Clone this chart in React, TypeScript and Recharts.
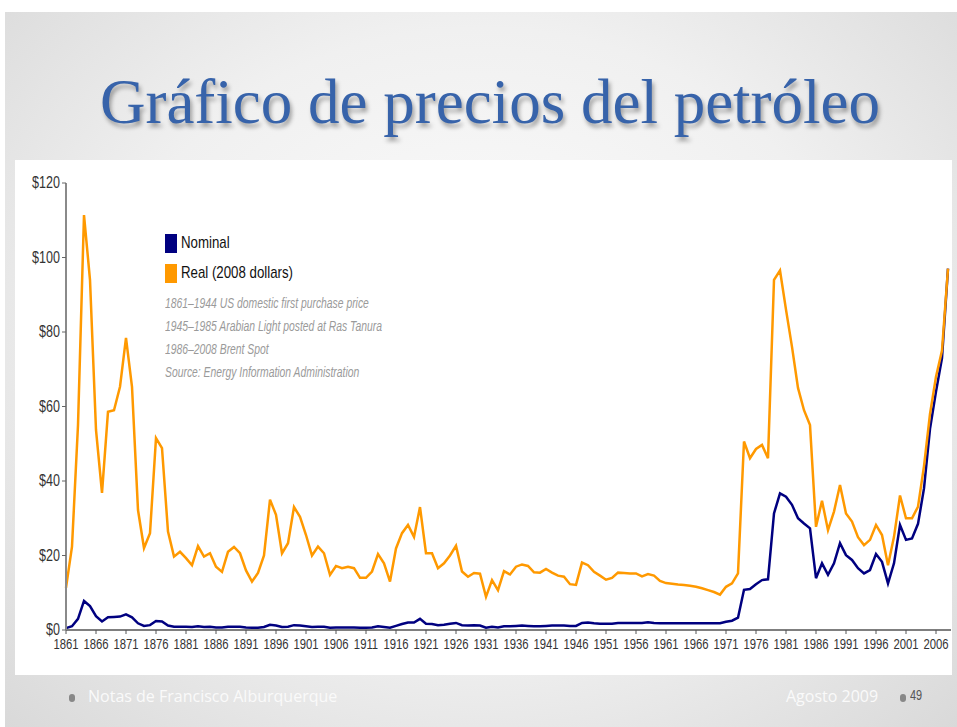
import { LineChart, Line, XAxis, YAxis } from 'recharts'

// Real price, 2008 dollars per barrel
const real1861to1900 = [
  11.3, 22.4, 55, 111.4, 94, 53.7, 36.8, 58.6, 59, 65.3,
  78.4, 65.3, 32.2, 22, 26, 51.5, 48.8, 26.4, 19.7, 21,
  19.3, 17.4, 22.5, 19.7, 20.6, 17, 15.6, 21, 22.3, 20.6,
  16, 13, 15.3, 20, 35, 30.9, 20.6, 23.3, 33, 30.4,
]
const real1901to1940 = [
  25.5, 20, 22.4, 20.6, 14.8, 17.2, 16.6, 17, 16.6, 14,
  14, 15.7, 20.4, 17.9, 13, 21.9, 26, 28.2, 25, 33,
  20.6, 20.6, 16.6, 17.9, 20, 22.6, 15.7, 14.3, 15.3, 15.1,
  8.9, 13.4, 10.7, 15.8, 14.9, 17, 17.6, 17.2, 15.5, 15.4,
]
const real1941to1980 = [
  16.4, 15.4, 14.6, 14.3, 12.3, 12.1, 18.1, 17.4, 15.6, 14.6,
  13.5, 14, 15.4, 15.3, 15.2, 15.2, 14.4, 15, 14.6, 13.2,
  12.6, 12.4, 12.2, 12.1, 11.9, 11.6, 11.2, 10.7, 10.2, 9.5,
  11.6, 12.5, 15.2, 50.6, 46.1, 48.6, 49.7, 46.1, 94, 96.5,
]
const real1981to2008 = [
  86, 76, 65, 59, 55, 27.7, 34.7, 26.8, 31.8, 38.9,
  31.3, 29.1, 24.9, 22.8, 24.2, 28.2, 25.5, 17.4, 25, 36.1,
  30, 30, 33.1, 44, 58, 68, 75, 97,
]

// Nominal price, dollars per barrel
const nominal1861to1900 = [
  0.5, 1.0, 3.0, 7.8, 6.4, 3.7, 2.3, 3.4, 3.5, 3.6,
  4.2, 3.4, 1.8, 1.1, 1.3, 2.4, 2.3, 1.2, 0.9, 0.9,
  0.9, 0.8, 1.0, 0.8, 0.9, 0.7, 0.7, 0.9, 0.9, 0.9,
  0.7, 0.6, 0.6, 0.8, 1.4, 1.2, 0.8, 0.9, 1.3, 1.2,
]
const nominal1901to1940 = [
  1.0, 0.8, 0.9, 0.9, 0.6, 0.7, 0.7, 0.7, 0.7, 0.6,
  0.6, 0.7, 1.0, 0.8, 0.6, 1.1, 1.6, 2.0, 2.0, 3.0,
  1.7, 1.6, 1.3, 1.4, 1.7, 1.9, 1.3, 1.2, 1.3, 1.2,
  0.6, 0.9, 0.7, 1.0, 1.0, 1.1, 1.2, 1.1, 1.0, 1.0,
]
const nominal1941to1980 = [
  1.1, 1.2, 1.2, 1.2, 1.1, 1.1, 1.9, 2.0, 1.8, 1.7,
  1.7, 1.7, 1.9, 1.9, 1.9, 1.9, 1.9, 2.1, 1.9, 1.8,
  1.8, 1.8, 1.8, 1.8, 1.8, 1.8, 1.8, 1.8, 1.8, 1.8,
  2.2, 2.5, 3.3, 10.8, 11, 12.3, 13.4, 13.6, 31.3, 36.7,
]
const nominal1981to2008 = [
  35.8, 33.6, 30, 28.6, 27.3, 13.9, 17.9, 14.8, 17.9, 23.3,
  20.1, 18.8, 16.6, 15.2, 16.1, 20.4, 18.3, 12.5, 17.9, 28.2,
  24.2, 24.6, 28.5, 38, 54, 64, 73, 97,
]

const firstYear = 1861
const xTicks = [
  1861, 1866, 1871, 1876, 1881, 1886, 1891, 1896, 1901, 1906,
  1911, 1916, 1921, 1926, 1931, 1936, 1941, 1946, 1951, 1956,
  1961, 1966, 1971, 1976, 1981, 1986, 1991, 1996, 2001, 2006,
]
const yTicks = [0, 20, 40, 60, 80, 100, 120]
const notes = [
  '1861–1944 US domestic first purchase price',
  '1945–1985 Arabian Light posted at Ras Tanura',
  '1986–2008 Brent Spot',
  'Source: Energy Information Administration',
]

const real = [...real1861to1900, ...real1901to1940, ...real1941to1980, ...real1981to2008]
const nominal = [...nominal1861to1900, ...nominal1901to1940, ...nominal1941to1980, ...nominal1981to2008]
const data = real.map((r, i) => ({ year: firstYear + i, nominal: nominal[i], real: r }))

const NAVY = '#000080'
const ORANGE = '#ff9900'
const sans = "'Liberation Sans', Arial, sans-serif"
const squeeze = 0.78

// narrow-looking tick text (no condensed font available)
function XTick({ x, y, payload }: any) {
  return (
    <text transform={`translate(${x},${y + 13}) scale(${squeeze},1)`} textAnchor="middle" fontSize={14.5} fontFamily={sans} fill="#333">
      {payload.value}
    </text>
  )
}

function YTick({ x, y, payload }: any) {
  return (
    <text transform={`translate(${x},${y + 5}) scale(0.76,1)`} textAnchor="end" fontSize={16.5} fontFamily={sans} fill="#333">
      {`$${payload.value}`}
    </text>
  )
}

function ChartLegend() {
  const items = [
    { label: 'Nominal', color: NAVY },
    { label: 'Real (2008 dollars)', color: ORANGE },
  ]
  return (
    <div style={{ position: 'absolute', left: 165, top: 228, fontFamily: sans }}>
      {items.map((it) => (
        <div key={it.label} style={{ display: 'flex', alignItems: 'center', height: 30 }}>
          <span style={{ width: 12, height: 19, background: it.color, marginRight: 4 }} />
          <span style={{ fontSize: 17, color: '#111', transform: `scaleX(${squeeze})`, transformOrigin: 'left', whiteSpace: 'nowrap' }}>
            {it.label}
          </span>
        </div>
      ))}
      <div style={{ marginTop: 4, transform: 'scaleX(0.74)', transformOrigin: 'left' }}>
        {notes.map((n) => (
          <div key={n} style={{ fontSize: 14, fontStyle: 'italic', color: '#9a9a9a', lineHeight: '23px', whiteSpace: 'nowrap' }}>{n}</div>
        ))}
      </div>
    </div>
  )
}

export default function App() {
  return (
    <div style={{ position: 'relative', width: 957, height: 727, background: '#fff', overflow: 'hidden' }}>
      <style>{'body{margin:0}'}</style>
      <div
        style={{
          position: 'absolute', left: 5, top: 12, width: 952, height: 715,
          background: 'radial-gradient(ellipse at 50% 45%, #fdfdfd 0%, #f0f0f0 55%, #d9d9d9 100%)',
        }}
      />
      <div
        style={{
          position: 'absolute', left: 0, top: 66, width: 980, textAlign: 'center',
          fontFamily: "'Liberation Serif', 'DejaVu Serif', serif", fontSize: 63, color: '#3763aa',
          textShadow: '2px 4px 4px rgba(0,0,0,0.35)', whiteSpace: 'nowrap',
        }}
      >
        Gráfico de precios del petróleo
      </div>
      <div style={{ position: 'absolute', left: 15, top: 160, width: 937, height: 515, background: '#fff' }}>
        <LineChart width={937} height={515} data={data} margin={{ top: 23, right: 1, bottom: 15, left: 0 }}>
          <XAxis
            dataKey="year"
            type="number"
            domain={[1861, 2008.5]}
            ticks={xTicks}
            interval={0}
            height={30}
            axisLine={{ stroke: '#555', strokeWidth: 1.5 }}
            tickLine={{ stroke: '#555' }}
            tickSize={4}
            tick={<XTick />}
          />
          <YAxis
            domain={[0, 120]}
            ticks={yTicks}
            width={51}
            axisLine={{ stroke: '#8a8a8a', strokeWidth: 2 }}
            tickLine={{ stroke: '#666' }}
            tickSize={4}
            tickMargin={2}
            tick={<YTick />}
          />
          <Line dataKey="nominal" stroke={NAVY} strokeWidth={2.5} dot={false} isAnimationActive={false} />
          <Line dataKey="real" stroke={ORANGE} strokeWidth={2.5} dot={false} isAnimationActive={false} />
        </LineChart>
      </div>
      <ChartLegend />
      <div style={{ position: 'absolute', left: 69, top: 694, width: 6, height: 8, borderRadius: 4, background: '#888' }} />
      <div style={{ position: 'absolute', left: 88, top: 685, fontFamily: "'Open Sans', sans-serif", fontSize: 16, color: '#fafafa' }}>
        Notas de Francisco Alburquerque
      </div>
      <div style={{ position: 'absolute', left: 786, top: 685, fontFamily: "'Open Sans', sans-serif", fontSize: 16, color: '#fafafa' }}>
        Agosto 2009
      </div>
      <div style={{ position: 'absolute', left: 900, top: 694, width: 6, height: 8, borderRadius: 4, background: '#888' }} />
      <div style={{ position: 'absolute', left: 910, top: 687, fontFamily: sans, fontSize: 14, color: '#555', transform: `scaleX(${squeeze})`, transformOrigin: 'left' }}>
        49
      </div>
    </div>
  )
}
